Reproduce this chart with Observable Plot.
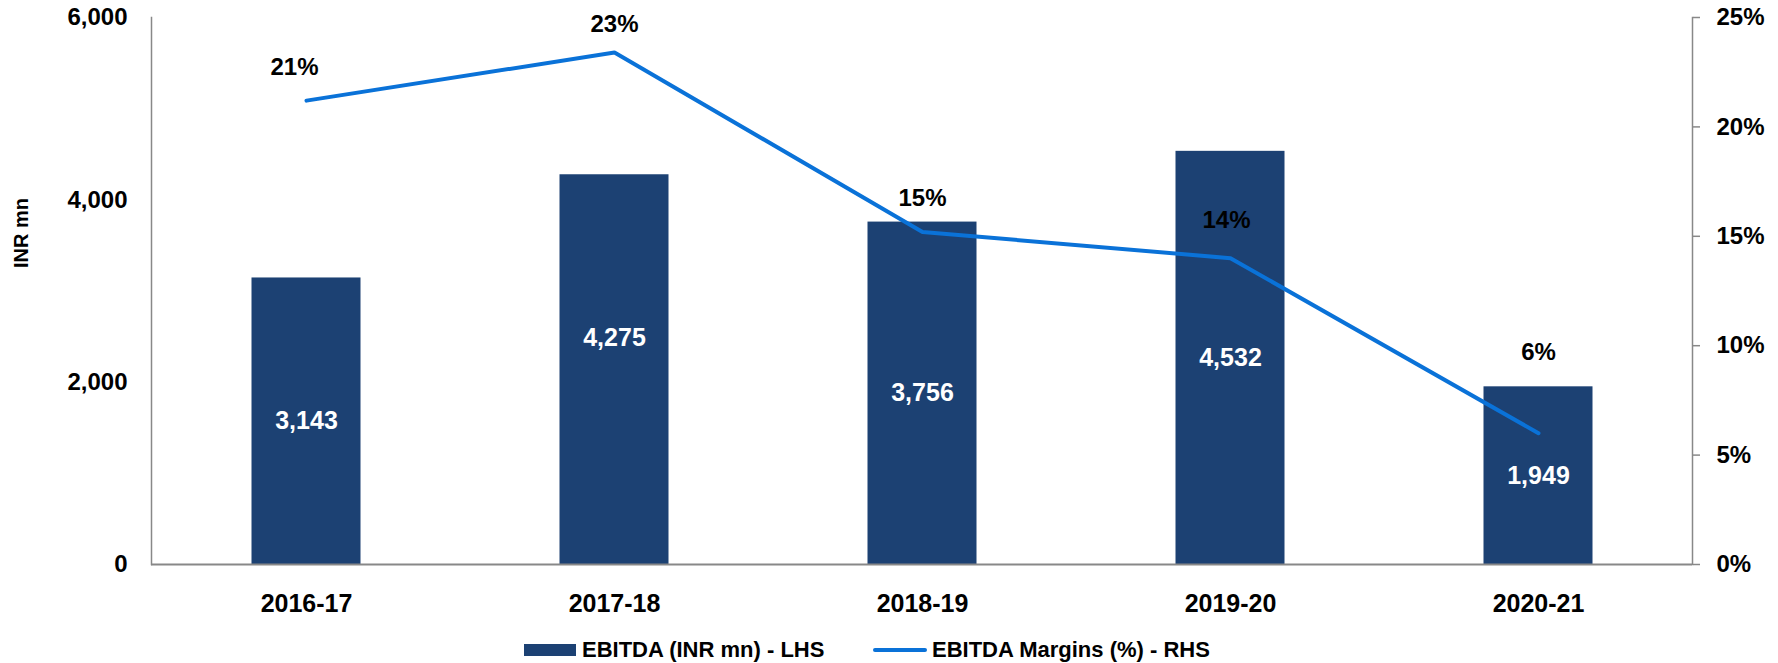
<!DOCTYPE html>
<html>
<head>
<meta charset="utf-8">
<script src="https://cdn.jsdelivr.net/npm/d3@7"></script>
<script src="https://cdn.jsdelivr.net/npm/@observablehq/plot@0.6"></script>
<style>
  html, body { margin: 0; padding: 0; background: #fff; }
  body { width: 1778px; height: 663px; overflow: hidden; font-family: "Liberation Sans", Arial, Helvetica, sans-serif; }
  #legend { position: relative; height: 33px; font-weight: bold; font-size: 22px; color: #000; }
  .item { position: absolute; top: 0; height: 40px; display: flex; align-items: center; }
  .sw-bar { width: 52px; height: 12px; background: #1c4173; margin-right: 6px; }
  .sw-line { width: 54px; height: 4px; background: #0a72d8; margin-right: 5px; border-radius: 2px; }
</style>
</head>
<body>
<div id="chart"></div>
<div id="legend">
  <div class="item" style="left:524px"><span class="sw-bar"></span><span>EBITDA (INR mn) - LHS</span></div>
  <div class="item" style="left:873px"><span class="sw-line"></span><span>EBITDA Margins (%) - RHS</span></div>
</div>
<script>
// ---- data ----
const years = ["2016-17", "2017-18", "2018-19", "2019-20", "2020-21"];
const ebitda = [3143, 4275, 3756, 4532, 1949];          // INR mn (LHS)
const margins = [21.2, 23.4, 15.2, 14.0, 6.0];           // % (RHS)
const leftTicks = [0, 2000, 4000, 6000];
const rightTicks = [0, 5, 10, 15, 20, 25];

// ---- styling ----
const BAR = "#1c4173";
const LINE = "#0a72d8";
const AXIS = "#888888";
const FONT = "Liberation Sans, Arial, Helvetica, sans-serif";
const yMax = 6000, rMax = 25, k = yMax / rMax;   // secondary axis mapping
const pctLabelOffset = {"2016-17": [-12, -33], "2017-18": [0, -28], "2018-19": [0, -34], "2019-20": [-4, -38], "2020-21": [0, -81]};
const barLabelOffset = {"2017-18": -32};

const rows = years.map((y, i) => ({year: y, v: ebitda[i], m: margins[i]}));

const pctLabels = rows.map(r => Plot.text([r], {
  x: "year", y: d => d.m * k, text: d => `${Math.round(d.m)}%`,
  dx: pctLabelOffset[r.year][0], dy: pctLabelOffset[r.year][1],
  fill: "#000", fontSize: 24, fontWeight: "bold"
}));
const barLabels = rows.map(r => Plot.text([r], {
  x: "year", y: d => d.v / 2, text: d => d3.format(",")(d.v),
  dy: barLabelOffset[r.year] || 0,
  fill: "#fff", fontSize: 25, fontWeight: "bold"
}));

const chart = Plot.plot({
  width: 1778,
  height: 630,
  marginLeft: 151,
  marginRight: 86,
  marginTop: 17,
  marginBottom: 66,
  style: {fontFamily: FONT, background: "#fff"},
  x: {domain: years, padding: 0, label: null},
  y: {domain: [0, yMax], label: null},
  marks: [
    Plot.barY(rows, {x: "year", y: "v", fill: BAR, insetLeft: 99.5, insetRight: 99.5}),
    Plot.frame({anchor: "left", stroke: AXIS, strokeWidth: 1.5}),
    Plot.frame({anchor: "right", stroke: AXIS, strokeWidth: 1.5}),
    Plot.ruleY([0], {stroke: AXIS, strokeWidth: 2}),
    Plot.axisY(leftTicks, {anchor: "left", tickSize: 0, tickPadding: 24, tickFormat: d3.format(","),
      fontSize: 24, fontWeight: "bold", fill: "#000", label: null}),
    Plot.axisY(rightTicks.map(t => t * k), {anchor: "right", tickSize: 7, tickPadding: 17,
      tickFormat: d => `${Math.round(d / k)}%`, stroke: AXIS, strokeWidth: 1.5,
      fontSize: 24, fontWeight: "bold", fill: "#000", label: null}),
    Plot.axisX({anchor: "bottom", tickSize: 0, tickPadding: 30, fontSize: 25, fontWeight: "bold", fill: "#000", label: null}),
    Plot.line(rows, {x: "year", y: d => d.m * k, stroke: LINE, strokeWidth: 4, strokeLinecap: "round", strokeLinejoin: "miter"}),
    ...barLabels,
    ...pctLabels,
    Plot.text(["INR mn"], {frameAnchor: "left", dx: -130, dy: -23, rotate: -90, fontSize: 20, fontWeight: "bold", fill: "#000"})
  ]
});
document.getElementById("chart").appendChild(chart);
</script>
</body>
</html>
